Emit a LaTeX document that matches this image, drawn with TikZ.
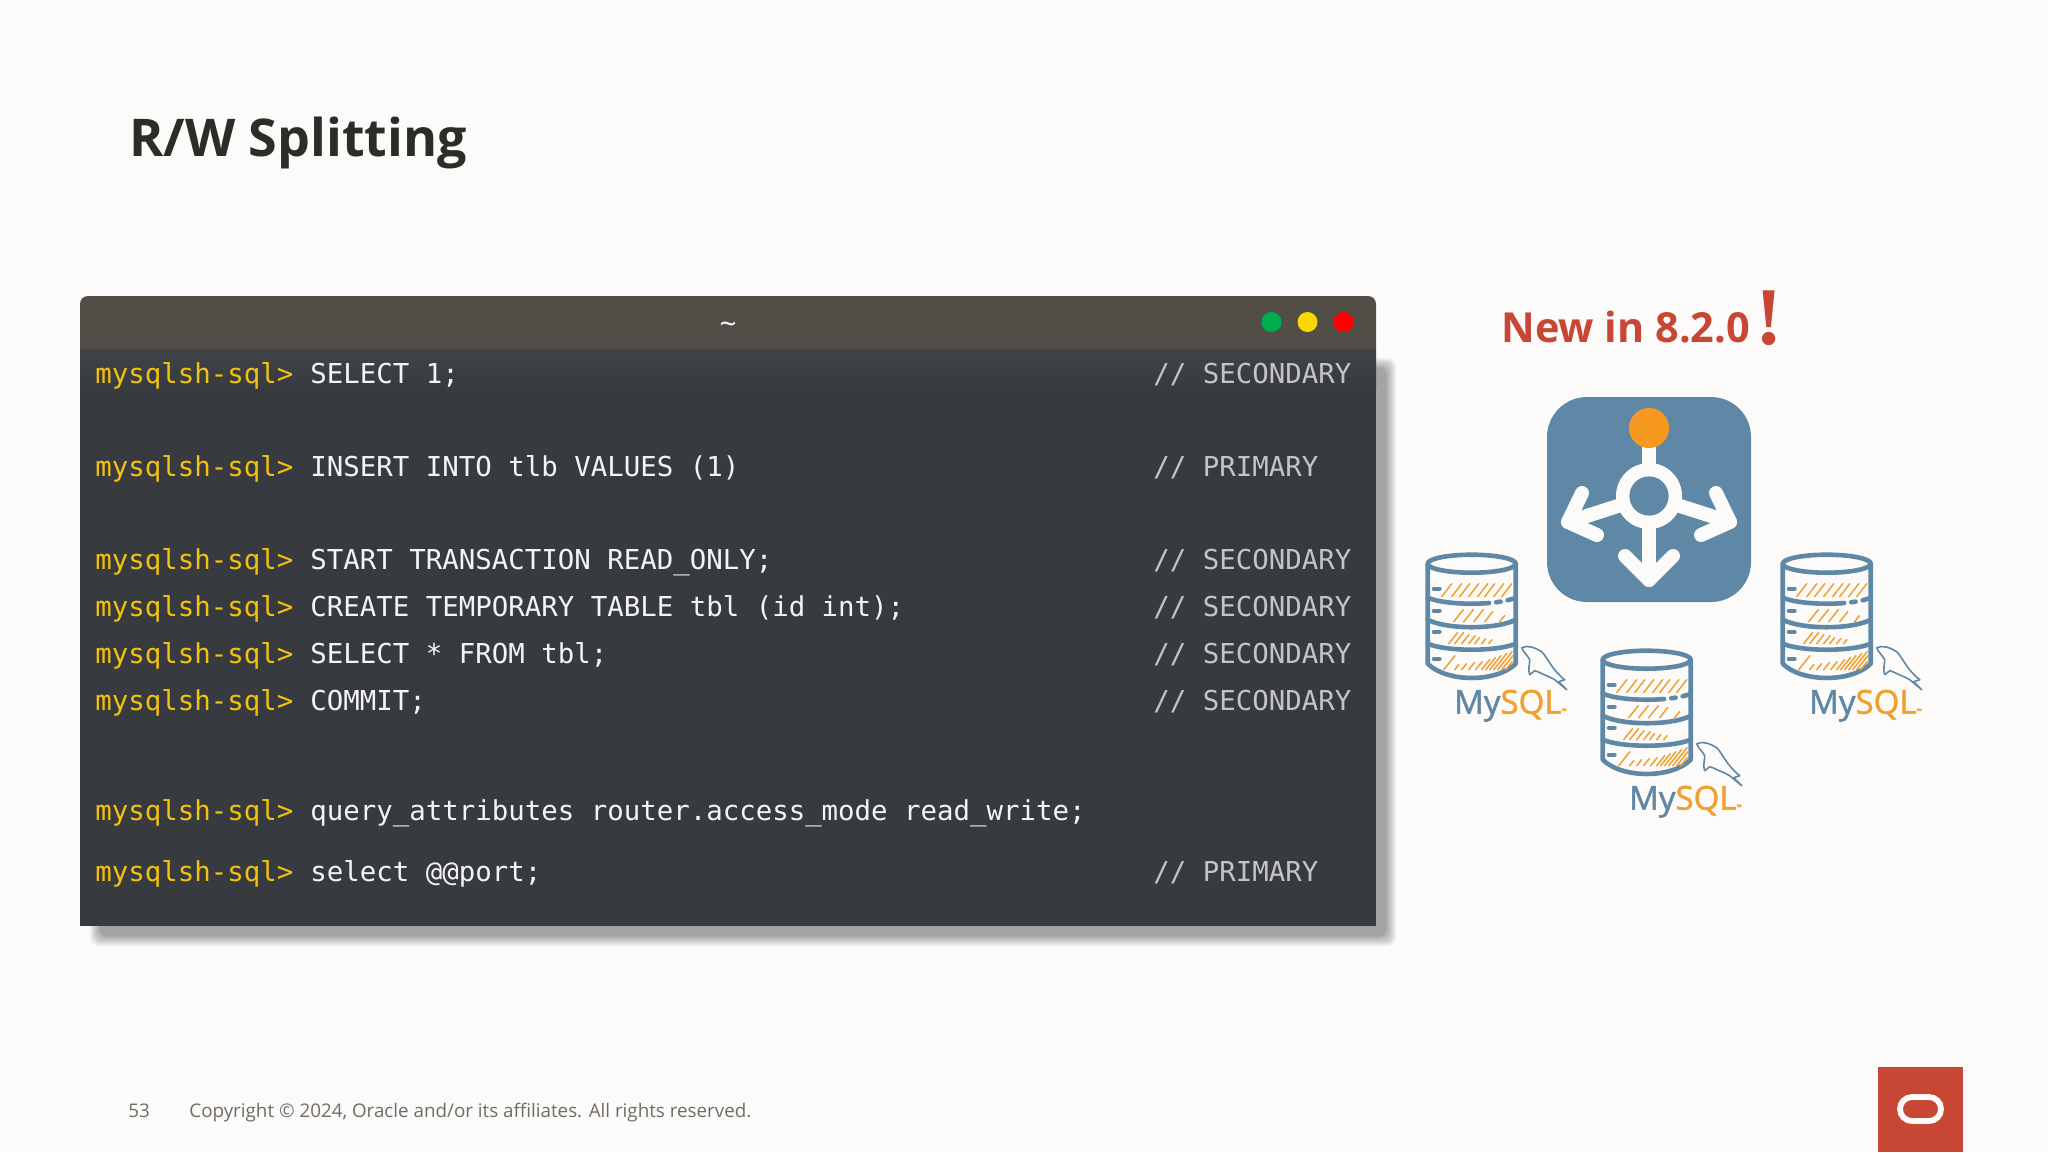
\documentclass[tikz,border=0pt]{standalone}
\usepackage{fontspec}
\setsansfont{Open Sans}
\setmonofont{DejaVu Sans Mono}
\newfontfamily\logofont[FakeBold=1.5]{Open Sans}
\newfontfamily\bangfont{Liberation Serif}
\definecolor{pagebg}{HTML}{FCFBFA}
\definecolor{termbar}{HTML}{524D47}
\definecolor{termbody}{HTML}{373A3E}
\definecolor{termtop}{HTML}{404347}
\definecolor{promptcol}{HTML}{F4C20D}
\definecolor{cmdcol}{HTML}{F4F4F4}
\definecolor{tagcol}{HTML}{C4C4C4}
\definecolor{titlecol}{HTML}{2E2C29}
\definecolor{footcol}{HTML}{6F6C68}
\definecolor{oraclered}{HTML}{C74634}
\definecolor{steelblue}{HTML}{5F88A6}
\definecolor{sqlorange}{HTML}{F0A030}
\definecolor{dotorange}{HTML}{F7991F}
\tikzset{
  termtext/.style={anchor=base west, inner sep=0pt, font=\ttfamily\fontsize{13.7pt}{16pt}\selectfont},
  prompttext/.style={termtext, text=promptcol},
  cmdtext/.style={termtext, text=cmdcol},
  tagtext/.style={termtext, text=tagcol},
  hatch/.style={draw=sqlorange, line width=0.75pt, line cap=round},
  dbline/.style={draw=steelblue, line width=2.3pt, line cap=round, line join=round},
  mysqldb/.pic={
    % drum and the three bands
    \draw[dbline] (-44,0) -- (-44,100) .. controls (-25,119) and (25,119) .. (44,100) -- (44,0);
    \draw[dbline] (0,0) ellipse [x radius=44, y radius=9];
    \draw[dbline, dash pattern=on 31pt off 3.6pt on 2.2pt off 3.6pt on 5pt] (-44,34) .. controls (-25,42) and (25,42) .. (44,34);
    \draw[dbline] (-44,56) .. controls (-25,66) and (25,66) .. (44,56);
    \draw[dbline] (-44,80) .. controls (-25,88) and (25,88) .. (44,80);
    \foreach \ledy in {25,47,68,95}
      \draw[steelblue, line width=2pt, line cap=round] (-38,\ledy) -- (-32,\ledy);
    % hatching, row by row
    \foreach \hx in {-30,-20,-12,-3,6,13,22,30}
      \draw[hatch] (\hx,33) -- ++(10,-13);
    \foreach \hx/\hlen in {-18/12,-8/12,2/12,13/10,28/6}
      \draw[hatch] (\hx,58) -- ++({.8*\hlen},{-\hlen});
    \foreach \hx/\hlen in {-23/11,-17/11,-10/9,-3/8,3/6,10/5,17/4}
      \draw[hatch] (\hx,80) -- ++({.8*\hlen},{-\hlen});
    \foreach \hx/\hlen in {-28/14,-17/5,-10/6,-3/7,4/8,10/10,14/12,18/14,22/16,26/18,30/14,34/8}
      \draw[hatch] (\hx,106) -- ++({.8*\hlen},{-\hlen});
    % dolphin
    \draw[steelblue, line width=.8pt, line join=round] (50,84) .. controls (56,81) and (64,84) .. (70,88)
      .. controls (76,94) and (80,106) .. (93,116) -- (87,118) -- (95,126) -- (83,116)
      .. controls (78,113) and (72,111) .. (66,108) -- (63,107) -- (58,111) .. controls (56,106) and (58,101) .. (58,96)
      .. controls (56,92) and (52,89) .. (50,84) -- cycle;
    % logo text
    \node[anchor=base west, inner sep=0pt, font=\logofont\fontsize{16.5pt}{18pt}\selectfont] (label) at (-18,150)
      {\textcolor{steelblue}{My}\textcolor{sqlorange}{SQL}\textcolor{sqlorange}{\fontsize{3.5pt}{4pt}\selectfont ™}};
  }
}
\begin{document}
\begin{tikzpicture}[x=0.5pt, y=-0.5pt]
\fill[pagebg] (0,0) rectangle (2048,1152);
\path[use as bounding box] (0,0) rectangle (2048,1152);
% Heading
\node[anchor=base west, inner sep=0pt, text=titlecol, font=\sffamily\bfseries\fontsize{26pt}{30pt}\selectfont] (heading) at (129,156) {R/W Splitting};
% Terminal shadow
\foreach \grow in {0,...,10}
  \fill[black, opacity=.035, rounded corners=4pt] ({100-\grow},{368-\grow}) rectangle ({1386+\grow},{936+\grow});
% Terminal window
\fill[termbody] (80,349) rectangle (1376,926);
\shade[top color=termtop, bottom color=termbody] (80,349) rectangle (1376,388);
\fill[termbar] (80,349) [rounded corners=4pt] -- (80,296) -- (1376,296) [sharp corners] -- (1376,349) -- cycle;
\node[termtext, anchor=center, text=cmdcol] (tilde) at (728,327) {\textasciitilde};
\fill[green!55!black!70!cyan] (1271.5,322) circle (10);
\fill[yellow!75!orange] (1307.5,322) circle (10);
\fill[red] (1343.5,322) circle (10);
% Terminal lines
\foreach \row/\ypos/\cmd in {a/383/{SELECT 1;},b/476/{INSERT INTO tlb VALUES (1)},c/569.5/{START TRANSACTION READ\_ONLY;},d/616.5/{CREATE TEMPORARY TABLE tbl (id int);},e/663.5/{SELECT * FROM tbl;},f/710.5/{COMMIT;},g/820.5/{query\_attributes router.access\_mode read\_write;},h/881.5/{select @@port;}} {
  \node[prompttext] (prompt\row) at (95,\ypos) {mysqlsh-sql>};
  \node[cmdtext] (cmd\row) at (310,\ypos) {\cmd};
}
\foreach \row/\ypos/\tagname in {a/383/SECONDARY,b/476/PRIMARY,c/569.5/SECONDARY,d/616.5/SECONDARY,e/663.5/SECONDARY,f/710.5/SECONDARY,h/881.5/PRIMARY}
  \node[tagtext] (tag\row) at (1153,\ypos) {// \tagname};
% New in 8.2.0
\node[anchor=base west, inner sep=0pt, text=oraclered, font=\sffamily\bfseries\fontsize{20.7pt}{26pt}\selectfont] (newin) at (1501,342) {New in 8.2.0};
\node[anchor=base west, inner sep=0pt, text=oraclered, font=\bangfont\bfseries\fontsize{41pt}{44pt}\selectfont] (bang) at (1755,344) {!};
% Router icon
\fill[steelblue, rounded corners=20pt] (1547,397) rectangle (1751,602);
\begin{scope}[pagebg, line width=7pt, line cap=round, line join=round]
  \draw (1649,428) -- (1649,580);
  \draw (1625,556) -- (1649,580) -- (1673,556);
  \draw (1649,496) -- (1568,522);
  \draw (1582,493) -- (1568,522) -- (1597,535);
  \draw (1649,496) -- (1730,522);
  \draw (1716,493) -- (1730,522) -- (1701,535);
\end{scope}
\fill[pagebg] (1649,496) circle (33);
\fill[steelblue] (1649,496) circle (19.6);
\fill[dotorange] (1649,428) circle (20);
% Database icons
\pic (dba) at (1471.7,563.7) {mysqldb};
\pic (dbb) at (1646.7,659.7) {mysqldb};
\pic (dbc) at (1826.7,563.7) {mysqldb};
% Footer
\node[anchor=base west, inner sep=0pt, text=footcol, font=\sffamily\fontsize{9.4pt}{12pt}\selectfont] (pageno) at (128,1117) {53};
\node[anchor=base west, inner sep=0pt, text=footcol, font=\sffamily\fontsize{9.4pt}{12pt}\selectfont] (copyright) at (189,1117) {Copyright © 2024, Oracle and/or its affiliates. All rights reserved.};
% Oracle mark
\fill[oraclered] (1878,1067) rectangle (1963,1152);
\draw[pagebg, line width=2.9pt, rounded corners=6pt] (1900,1097) rectangle (1941,1121);
\end{tikzpicture}
\end{document}
